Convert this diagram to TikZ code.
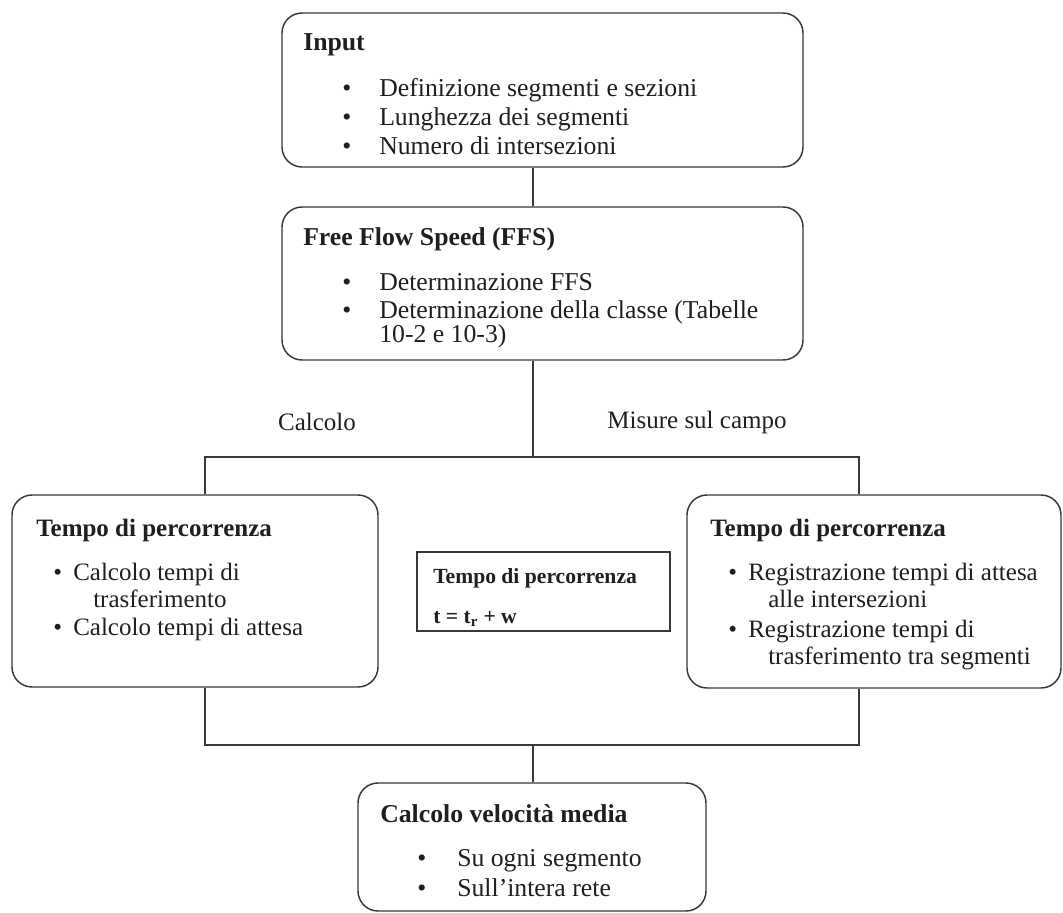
\documentclass[tikz,border=0pt]{standalone}
\usepackage{fontspec}
\setmainfont{Liberation Serif}
\usepackage{tikz}
\usetikzlibrary{positioning, fit}

\begin{document}
\begin{tikzpicture}[x=0.75pt, y=-0.75pt]
    \tikzset{box/.style = {draw=black!78, line width=1.1pt, rounded corners=15pt, inner sep=0pt}}
    \tikzset{sqbox/.style = {draw=black!78, line width=1.1pt, inner sep=0pt}}
    \tikzset{wire/.style = {draw=black!78, line width=1.1pt}}
    \tikzset{txt/.style = {anchor=base west, inner sep=0pt, text=black!88, font=\fontsize{18.75pt}{22pt}\selectfont}}
    \tikzset{hd/.style = {txt, font=\fontsize{18.75pt}{22pt}\selectfont\bfseries}}
    \tikzset{txtL/.style = {txt, font=\fontsize{19.3pt}{22pt}\selectfont}}
    \tikzset{hdL/.style = {txt, font=\fontsize{19.3pt}{22pt}\selectfont\bfseries}}
    \tikzset{small/.style = {txt, font=\fontsize{16.2pt}{18pt}\selectfont\bfseries}}

    \useasboundingbox (0,0) rectangle (1063,913);

    % boxes
    \node[box, fit={(282,13) (803,167)}] (input) {};
    \node[box, fit={(282,207) (803,360)}] (ffs) {};
    \node[box, fit={(12,495) (378,687)}] (calc) {};
    \node[box, fit={(687,495) (1061,688)}] (meas) {};
    \node[sqbox, fit={(417,552) (670,631)}] (formula) {};
    \node[box, fit={(358,783) (706,911)}] (speed) {};

    % Input
    \node[hdL] (inputT) at (303,51) {Input};
    \node[txtL] (inputB1) at (342,97) {\textbullet};
    \node[txtL] (inputL1) at (379,97) {Definizione segmenti e sezioni};
    \node[txtL] (inputB2) at (342,126) {\textbullet};
    \node[txtL] (inputL2) at (379,126) {Lunghezza dei segmenti};
    \node[txtL] (inputB3) at (342,155) {\textbullet};
    \node[txtL] (inputL3) at (379,155) {Numero di intersezioni};

    % Free Flow Speed
    \node[hdL] (ffsT) at (303,245) {Free Flow Speed (FFS)};
    \node[txtL] (ffsB1) at (342,290) {\textbullet};
    \node[txtL] (ffsL1) at (379,290) {Determinazione FFS};
    \node[txtL] (ffsB2) at (342,318) {\textbullet};
    \node[txtL] (ffsL2) at (379,318) {Determinazione della classe (Tabelle};
    \node[txtL] (ffsL3) at (379,342) {10-2 e 10-3)};

    % branch labels
    \node[txt, anchor=center] (calcLbl) at (317,422) {Calcolo};
    \node[txt, anchor=center] (measLbl) at (697,422) {Misure sul campo};

    % Calcolo
    \node[hd] (calcT) at (36,536) {Tempo di percorrenza};
    \node[txt] (calcB1) at (53,580) {\textbullet};
    \node[txt] (calcL1) at (73,580) {Calcolo tempi di};
    \node[txt] (calcL2) at (93,607) {trasferimento};
    \node[txt] (calcB2) at (53,635) {\textbullet};
    \node[txt] (calcL3) at (73,635) {Calcolo tempi di attesa};

    % Misure
    \node[hd] (measT) at (710,536) {Tempo di percorrenza};
    \node[txt] (measB1) at (728,580) {\textbullet};
    \node[txt] (measL1) at (748,580) {Registrazione tempi di attesa};
    \node[txt] (measL2) at (768,607) {alle intersezioni};
    \node[txt] (measB2) at (728,637) {\textbullet};
    \node[txt] (measL3) at (748,637) {Registrazione tempi di};
    \node[txt] (measL4) at (768,664) {trasferimento tra segmenti};

    % formula
    \node[small] (formT) at (433,583) {Tempo di percorrenza};
    \node[small] (formL) at (433,623) {t = t\textsubscript{r} + w};

    % velocita
    \node[hdL] (speedT) at (380,822) {Calcolo velocità media};
    \node[txtL] (speedB1) at (417,866) {\textbullet};
    \node[txtL] (speedL1) at (457,866) {Su ogni segmento};
    \node[txtL] (speedB2) at (417,896) {\textbullet};
    \node[txtL] (speedL2) at (457,896) {Sull’intera rete};

    % connectors
    \coordinate (split) at (533,457);
    \coordinate (splitL) at (205,457);
    \coordinate (splitR) at (859,457);
    \coordinate (join) at (533,745);
    \coordinate (joinL) at (205,745);
    \coordinate (joinR) at (859,745);

    \draw[wire] (input.south -| split) -- (ffs.north -| split);
    \draw[wire] (ffs.south -| split) -- (split);
    \draw[wire] (calc.north -| splitL) -- (splitL) -- (splitR) -- (meas.north -| splitR);
    \draw[wire] (calc.south -| joinL) -- (joinL) -- (joinR) -- (meas.south -| joinR);
    \draw[wire] (join) -- (speed.north -| join);
\end{tikzpicture}
\end{document}
